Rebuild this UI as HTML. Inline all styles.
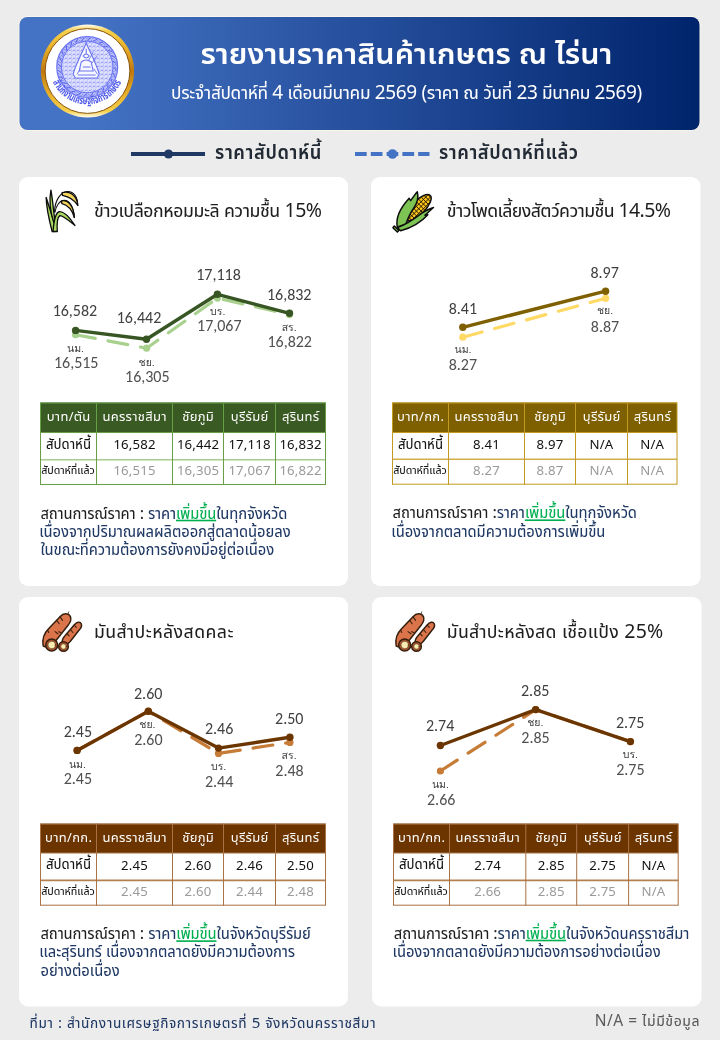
<!DOCTYPE html>
<html lang="th"><head><meta charset="utf-8"><title>รายงานราคาสินค้าเกษตร ณ ไร่นา</title>
<style>
html,body{margin:0;padding:0;background:#ececec;}
body{width:720px;height:1040px;overflow:hidden;}
svg{display:block;will-change:transform;}
</style></head><body>
<svg width="720" height="1040" viewBox="0 0 720 1040">
<rect x="0" y="0" width="720" height="1040" fill="#ececec"/>
<defs>
<linearGradient id="hg" x1="0" y1="0" x2="1" y2="0">
<stop offset="0.1" stop-color="#4472C4"/><stop offset="1" stop-color="#00246C"/></linearGradient>
<linearGradient id="gold" x1="0" y1="0" x2="0" y2="1">
<stop offset="0" stop-color="#fffdf0"/><stop offset="0.07" stop-color="#f6d04a"/><stop offset="0.25" stop-color="#e8b02a"/><stop offset="0.5" stop-color="#c0780e"/><stop offset="0.75" stop-color="#e8b02a"/><stop offset="0.93" stop-color="#f6d04a"/><stop offset="1" stop-color="#fffdf0"/></linearGradient>
<pattern id="hatch1" width="3" height="3" patternUnits="userSpaceOnUse"><rect width="3" height="3" fill="#b9befa"/><path d="M0.3 2.6 Q1.5 0.2 2.7 2.6" fill="none" stroke="#5f6af0" stroke-width="0.7"/></pattern>
<pattern id="hatch2" width="4" height="4" patternUnits="userSpaceOnUse"><rect width="4" height="4" fill="#dde0fd"/><path d="M0.5 3.2 Q2 0.6 3.5 3.2 M3.5 0.8 L3.9 1.6" fill="none" stroke="#6d78f0" stroke-width="0.75"/></pattern>
<clipPath id="cobclip"><ellipse cx="398" cy="272" rx="205" ry="82" transform="rotate(-45 398 272)"/></clipPath>
</defs>
<rect x="18.5" y="16" width="682" height="115" rx="9" fill="#f8f5ec"/>
<rect x="19.5" y="17" width="680" height="113" rx="8" fill="url(#hg)"/>
<circle cx="87.5" cy="71" r="46.6" fill="url(#gold)"/>
<circle cx="87.5" cy="71" r="42.4" fill="#ffffff" stroke="#8a5208" stroke-width="1"/>
<circle cx="87.2" cy="67" r="30" fill="url(#hatch1)"/>
<circle cx="87.2" cy="67" r="25.5" fill="url(#hatch2)"/>
<g fill="none" stroke="#6a74f0">
<circle cx="87.2" cy="67" r="30.4" stroke-width="1.3"/>
<circle cx="87.2" cy="67" r="25.8" stroke-width="1"/>
</g>
<path d="M87.2 40.5 L90.7 37.7 M93.1 41.2 L97.2 39.2 M98.7 43.1 L103.1 42.1 M103.7 46.3 L108.2 46.3 M107.9 50.5 L112.3 51.5 M111.1 55.5 L115.1 57.5 M113.0 61.1 L116.5 63.9 M113.7 67.0 L116.5 70.5 M113.0 72.9 L115.0 77.0 M111.1 78.5 L112.1 82.9 M107.9 83.5 L107.9 88.0 M103.7 87.7 L102.7 92.1 M98.7 90.9 L96.7 94.9 M93.1 92.8 L90.3 96.3 M87.2 93.5 L83.7 96.3 M81.3 92.8 L77.2 94.8 M75.7 90.9 L71.3 91.9 M70.7 87.7 L66.2 87.7 M66.5 83.5 L62.1 82.5 M63.3 78.5 L59.3 76.5 M61.4 72.9 L57.9 70.1 M60.7 67.0 L57.9 63.5 M61.4 61.1 L59.4 57.0 M63.3 55.5 L62.3 51.1 M66.5 50.5 L66.5 46.0 M70.7 46.3 L71.7 41.9 M75.7 43.1 L77.7 39.1 M81.3 41.2 L84.1 37.7" stroke="#5a64ee" stroke-width="1" fill="none"/>
<path d="M86.2 43 C90.2 53 96.2 63 99.2 74 L97.2 78 L75.2 78 L73.2 74 C76.2 63 82.2 53 86.2 43 Z" fill="#f7f8ff" stroke="#6a74f0" stroke-width="1.1"/>
<g fill="none" stroke="#6a74f0" stroke-width="1.1" stroke-linecap="round">
<path d="M86.2 49 L86.2 54 M83.2 56 q3 -4 6 0 q-3 4 -6 0 M81.2 62 q5 -4 10 0 L93.2 71 L79.2 71 Z M78.2 75 L95.2 75 M83.2 67 L90.2 67"/>
<path d="M88.2 61 l5 -9 M91.2 64 l6 -8 M80.2 69 l-3 5 M94.2 69 l3 5" stroke-width="0.9"/>
</g>
<path id="arc" d="M51.400000000000006 77.5 A 37.3 37.3 0 0 0 123.0 77.5" fill="none"/>
<text style="font-family:'Noto Sans','Noto Sans Thai UI','Liberation Sans',sans-serif;font-stretch:87.5%;font-size:11.5px;font-weight:700;fill:#4f5aea;"><textPath href="#arc" startOffset="50%" text-anchor="middle" textLength="86" lengthAdjust="spacingAndGlyphs">สำนักงานเศรษฐกิจการเกษตร</textPath></text>
<text x="406.5" y="64.4" text-anchor="middle" style="font-family:'Noto Sans','Noto Sans Thai UI','Liberation Sans',sans-serif;font-size:30.5px;font-weight:600;fill:#ffffff;">รายงานราคาสินค้าเกษตร ณ ไร่นา</text>
<text x="406.5" y="99.3" text-anchor="middle" style="font-family:'Noto Sans','Noto Sans Thai UI','Liberation Sans',sans-serif;font-stretch:87.5%;font-size:19px;font-weight:400;fill:#ffffff;letter-spacing:-0.35px;">ประจำสัปดาห์ที่ 4 เดือนมีนาคม 2569 (ราคา ณ วันที่ 23 มีนาคม 2569)</text>
<line x1="131" y1="154" x2="205" y2="154" stroke="#1F3864" stroke-width="4"/>
<circle cx="168.5" cy="154" r="4.6" fill="#1F3864"/>
<text x="215" y="158.8" text-anchor="start" style="font-family:'Noto Sans','Noto Sans Thai UI','Liberation Sans',sans-serif;font-stretch:87.5%;font-size:19.8px;font-weight:600;fill:#222a35;letter-spacing:0.6px;">ราคาสัปดาห์นี้</text>
<line x1="355" y1="154" x2="429.5" y2="154" stroke="#4472C4" stroke-width="4" stroke-dasharray="11.7 4.1"/>
<circle cx="392.5" cy="154" r="4.8" fill="#4472C4"/>
<text x="439" y="158.8" text-anchor="start" style="font-family:'Noto Sans','Noto Sans Thai UI','Liberation Sans',sans-serif;font-stretch:87.5%;font-size:19.8px;font-weight:600;fill:#222a35;letter-spacing:0.55px;">ราคาสัปดาห์ที่แล้ว</text>
<rect x="19" y="177" width="329" height="409" rx="9" fill="#ffffff"/>
<rect x="371" y="177" width="329.5" height="409" rx="9" fill="#ffffff"/>
<rect x="19" y="597" width="329" height="409.5" rx="9" fill="#ffffff"/>
<rect x="372" y="597" width="329.5" height="409.5" rx="9" fill="#ffffff"/>
<text x="94" y="216.8" text-anchor="start" style="font-family:'Noto Sans','Noto Sans Thai UI','Liberation Sans',sans-serif;font-stretch:87.5%;font-size:19.5px;font-weight:400;fill:#1e1e1e;letter-spacing:-0.45px;">ข้าวเปลือกหอมมะลิ ความชื้น 15%</text>
<text x="446.8" y="216.8" text-anchor="start" style="font-family:'Noto Sans','Noto Sans Thai UI','Liberation Sans',sans-serif;font-stretch:87.5%;font-size:19.5px;font-weight:400;fill:#1e1e1e;letter-spacing:-0.61px;">ข้าวโพดเลี้ยงสัตว์ความชื้น 14.5%</text>
<text x="93.9" y="637.7" text-anchor="start" style="font-family:'Noto Sans','Noto Sans Thai UI','Liberation Sans',sans-serif;font-stretch:87.5%;font-size:19.5px;font-weight:400;fill:#1e1e1e;letter-spacing:0.42px;">มันสำปะหลังสดคละ</text>
<text x="446.8" y="637.7" text-anchor="start" style="font-family:'Noto Sans','Noto Sans Thai UI','Liberation Sans',sans-serif;font-stretch:87.5%;font-size:19.5px;font-weight:400;fill:#1e1e1e;letter-spacing:0.24px;">มันสำปะหลังสด เชื้อแป้ง 25%</text>
<g transform="translate(42 187) scale(0.0556)" stroke="#0d0d0d" stroke-width="24" stroke-linejoin="round" stroke-linecap="round">
<path d="M225 440 C232 250 330 88 455 80 C570 74 648 185 640 330" fill="none" stroke-width="20"/>
<path d="M362 102 C490 62 628 142 645 332 C598 252 528 182 368 150 Z" fill="#f6d35a"/>
<path d="M232 455 C255 330 320 240 402 240 C495 240 572 362 580 548" fill="none" stroke-width="20"/>
<path d="M350 250 C458 222 565 320 582 548 C545 425 478 325 358 298 Z" fill="#f6d35a"/>
<path d="M182 800 C130 600 80 400 75 188 C130 360 198 560 265 796 Z" fill="#a9d95f"/>
<path d="M212 640 C148 450 125 250 160 58 C195 250 208 450 235 620 Z" fill="#a9d95f"/>
<path d="M198 800 C215 600 238 465 305 445 C388 428 505 560 592 692 C480 602 372 505 320 515 C275 545 265 650 275 800 Z" fill="#a9d95f"/>
</g>
<g transform="translate(385 185) scale(0.08333)" stroke="#0d0d0d" stroke-width="18" stroke-linejoin="round">
<ellipse cx="398" cy="272" rx="205" ry="82" transform="rotate(-45 398 272)" fill="#f7c21c"/>
<g clip-path="url(#cobclip)" stroke="#2a1d00" stroke-width="12">
<line x1="-324" y1="60" x2="126" y2="510"/>
<line x1="-324" y1="510" x2="126" y2="60"/>
<line x1="-268" y1="60" x2="182" y2="510"/>
<line x1="-268" y1="510" x2="182" y2="60"/>
<line x1="-212" y1="60" x2="238" y2="510"/>
<line x1="-212" y1="510" x2="238" y2="60"/>
<line x1="-156" y1="60" x2="294" y2="510"/>
<line x1="-156" y1="510" x2="294" y2="60"/>
<line x1="-100" y1="60" x2="350" y2="510"/>
<line x1="-100" y1="510" x2="350" y2="60"/>
<line x1="-44" y1="60" x2="406" y2="510"/>
<line x1="-44" y1="510" x2="406" y2="60"/>
<line x1="12" y1="60" x2="462" y2="510"/>
<line x1="12" y1="510" x2="462" y2="60"/>
<line x1="68" y1="60" x2="518" y2="510"/>
<line x1="68" y1="510" x2="518" y2="60"/>
<line x1="124" y1="60" x2="574" y2="510"/>
<line x1="124" y1="510" x2="574" y2="60"/>
<line x1="180" y1="60" x2="630" y2="510"/>
<line x1="180" y1="510" x2="630" y2="60"/>
<line x1="236" y1="60" x2="686" y2="510"/>
<line x1="236" y1="510" x2="686" y2="60"/>
<line x1="292" y1="60" x2="742" y2="510"/>
<line x1="292" y1="510" x2="742" y2="60"/>
<line x1="348" y1="60" x2="798" y2="510"/>
<line x1="348" y1="510" x2="798" y2="60"/>
<line x1="404" y1="60" x2="854" y2="510"/>
<line x1="404" y1="510" x2="854" y2="60"/>
<line x1="460" y1="60" x2="910" y2="510"/>
<line x1="460" y1="510" x2="910" y2="60"/>
<line x1="516" y1="60" x2="966" y2="510"/>
<line x1="516" y1="510" x2="966" y2="60"/>
<line x1="572" y1="60" x2="1022" y2="510"/>
<line x1="572" y1="510" x2="1022" y2="60"/>
<line x1="628" y1="60" x2="1078" y2="510"/>
<line x1="628" y1="510" x2="1078" y2="60"/>
<line x1="684" y1="60" x2="1134" y2="510"/>
<line x1="684" y1="510" x2="1134" y2="60"/>
</g>
<path d="M148 505 C125 400 190 270 290 160 L308 188 C335 150 360 115 388 82 C405 150 388 218 342 282 C308 330 275 400 250 470 Z" fill="#7dc455"/>
<path d="M150 512 C240 478 340 415 425 350 C462 320 505 295 582 270 C548 302 508 336 480 362 L514 356 C446 432 336 506 188 550 Z" fill="#7dc455"/>
<path d="M112 492 L168 545 L148 565 L95 512 Z" fill="#7dc455"/>
</g>
<g transform="translate(35 605) scale(0.08333)" stroke="#35200f" stroke-width="18" stroke-linejoin="round" stroke-linecap="round">
<path d="M405 82 L395 115" fill="none" stroke-width="9"/>
<path d="M98 490 C85 415 112 335 168 280 L300 140 C340 95 400 95 425 140 C440 175 420 215 395 245 L240 440 C200 492 125 515 98 490 Z" fill="#db744b"/>
<path d="M325 470 C320 420 340 390 360 370 L470 240 C500 205 540 195 555 225 C565 250 550 280 530 300 L420 440 C390 480 340 500 325 470 Z" fill="#db744b"/>
<path d="M300 140 L330 185 M260 185 L290 225 M240 320 L275 345 M285 320 L310 330 M150 300 L165 330 M470 240 L495 268 M430 300 L455 330 M390 350 L410 370" fill="none" stroke-width="13"/>
<circle cx="200" cy="480" r="72" fill="#a9502b"/>
<circle cx="200" cy="480" r="44" fill="#f8ecb2" stroke-width="6"/>
<circle cx="342" cy="498" r="58" fill="#a9502b"/>
<circle cx="342" cy="498" r="32" fill="#f8ecb2" stroke-width="6"/>
</g>
<g transform="translate(388 605) scale(0.08333)" stroke="#35200f" stroke-width="18" stroke-linejoin="round" stroke-linecap="round">
<path d="M405 82 L395 115" fill="none" stroke-width="9"/>
<path d="M98 490 C85 415 112 335 168 280 L300 140 C340 95 400 95 425 140 C440 175 420 215 395 245 L240 440 C200 492 125 515 98 490 Z" fill="#db744b"/>
<path d="M325 470 C320 420 340 390 360 370 L470 240 C500 205 540 195 555 225 C565 250 550 280 530 300 L420 440 C390 480 340 500 325 470 Z" fill="#db744b"/>
<path d="M300 140 L330 185 M260 185 L290 225 M240 320 L275 345 M285 320 L310 330 M150 300 L165 330 M470 240 L495 268 M430 300 L455 330 M390 350 L410 370" fill="none" stroke-width="13"/>
<circle cx="200" cy="480" r="72" fill="#a9502b"/>
<circle cx="200" cy="480" r="44" fill="#f8ecb2" stroke-width="6"/>
<circle cx="342" cy="498" r="58" fill="#a9502b"/>
<circle cx="342" cy="498" r="32" fill="#f8ecb2" stroke-width="6"/>
</g>
<polyline points="75.6,334.7 146.6,348.2 217.4,298.1 289.5,314.6" fill="none" stroke="#A9D18E" stroke-width="3.2" stroke-dasharray="20 13" stroke-linecap="round" stroke-linejoin="round"/>
<circle cx="75.6" cy="334.7" r="3.6" fill="#A9D18E"/>
<circle cx="146.6" cy="348.2" r="3.6" fill="#A9D18E"/>
<circle cx="217.4" cy="298.1" r="3.6" fill="#A9D18E"/>
<circle cx="289.5" cy="314.6" r="3.6" fill="#A9D18E"/>
<polyline points="75.6,330.4 146.5,339.3 217.4,294.3 289.5,313.3" fill="none" stroke="#375623" stroke-width="3.4" stroke-linejoin="round"/>
<circle cx="75.6" cy="330.4" r="3.7" fill="#375623"/>
<circle cx="146.5" cy="339.3" r="3.7" fill="#375623"/>
<circle cx="217.4" cy="294.3" r="3.7" fill="#375623"/>
<circle cx="289.5" cy="313.3" r="3.7" fill="#375623"/>
<polyline points="462.8,337.2 605.6,298.3" fill="none" stroke="#FFD966" stroke-width="3.2" stroke-dasharray="20 13" stroke-linecap="round" stroke-linejoin="round"/>
<circle cx="462.8" cy="337.2" r="3.6" fill="#FFD966"/>
<circle cx="605.6" cy="298.3" r="3.6" fill="#FFD966"/>
<polyline points="462.8,327.3 605.6,291.2" fill="none" stroke="#7F6000" stroke-width="3.4" stroke-linejoin="round"/>
<circle cx="462.8" cy="327.3" r="3.7" fill="#7F6000"/>
<circle cx="605.6" cy="291.2" r="3.7" fill="#7F6000"/>
<polyline points="77.1,750.4 148.3,711.3 218.5,753.4 289.9,742.4" fill="none" stroke="#C67B36" stroke-width="3.2" stroke-dasharray="20 13" stroke-linecap="round" stroke-linejoin="round"/>
<circle cx="77.1" cy="750.4" r="3.6" fill="#C67B36"/>
<circle cx="148.3" cy="711.3" r="3.6" fill="#C67B36"/>
<circle cx="218.5" cy="753.4" r="3.6" fill="#C67B36"/>
<circle cx="289.9" cy="742.4" r="3.6" fill="#C67B36"/>
<polyline points="77.1,750.4 148.3,711.3 218.5,748.1 289.9,737.3" fill="none" stroke="#6B3500" stroke-width="3.4" stroke-linejoin="round"/>
<circle cx="77.1" cy="750.4" r="3.7" fill="#6B3500"/>
<circle cx="148.3" cy="711.3" r="3.7" fill="#6B3500"/>
<circle cx="218.5" cy="748.1" r="3.7" fill="#6B3500"/>
<circle cx="289.9" cy="737.3" r="3.7" fill="#6B3500"/>
<polyline points="440.4,771.0 535.7,709.6 630.4,741.6" fill="none" stroke="#C67B36" stroke-width="3.2" stroke-dasharray="20 13" stroke-linecap="round" stroke-linejoin="round"/>
<circle cx="440.4" cy="771.0" r="3.6" fill="#C67B36"/>
<circle cx="535.7" cy="709.6" r="3.6" fill="#C67B36"/>
<circle cx="630.4" cy="741.6" r="3.6" fill="#C67B36"/>
<polyline points="440.4,745.5 535.7,709.6 630.4,741.6" fill="none" stroke="#6B3500" stroke-width="3.4" stroke-linejoin="round"/>
<circle cx="440.4" cy="745.5" r="3.7" fill="#6B3500"/>
<circle cx="535.7" cy="709.6" r="3.7" fill="#6B3500"/>
<circle cx="630.4" cy="741.6" r="3.7" fill="#6B3500"/>
<text x="74.9" y="316.3" text-anchor="middle" style="font-family:Carlito,'Liberation Sans',sans-serif;font-size:16px;fill:#404040;">16,582</text>
<text x="139" y="322.5" text-anchor="middle" style="font-family:Carlito,'Liberation Sans',sans-serif;font-size:16px;fill:#404040;">16,442</text>
<text x="218.5" y="280.3" text-anchor="middle" style="font-family:Carlito,'Liberation Sans',sans-serif;font-size:16px;fill:#404040;">17,118</text>
<text x="289.2" y="300.3" text-anchor="middle" style="font-family:Carlito,'Liberation Sans',sans-serif;font-size:16px;fill:#404040;">16,832</text>
<text x="75.5" y="351.5" text-anchor="middle" style="font-family:Loma,'Noto Sans Thai Looped',sans-serif;font-size:10.5px;fill:#404040;">นม.</text>
<text x="76.2" y="367.6" text-anchor="middle" style="font-family:Carlito,'Liberation Sans',sans-serif;font-size:16px;fill:#505050;">16,515</text>
<text x="146.7" y="366.0" text-anchor="middle" style="font-family:Loma,'Noto Sans Thai Looped',sans-serif;font-size:10.5px;fill:#404040;">ชย.</text>
<text x="147.3" y="382.1" text-anchor="middle" style="font-family:Carlito,'Liberation Sans',sans-serif;font-size:16px;fill:#505050;">16,305</text>
<text x="217.7" y="314.9" text-anchor="middle" style="font-family:Loma,'Noto Sans Thai Looped',sans-serif;font-size:10.5px;fill:#404040;">บร.</text>
<text x="219.3" y="331.0" text-anchor="middle" style="font-family:Carlito,'Liberation Sans',sans-serif;font-size:16px;fill:#505050;">17,067</text>
<text x="289.2" y="330.9" text-anchor="middle" style="font-family:Loma,'Noto Sans Thai Looped',sans-serif;font-size:10.5px;fill:#404040;">สร.</text>
<text x="289.7" y="347.0" text-anchor="middle" style="font-family:Carlito,'Liberation Sans',sans-serif;font-size:16px;fill:#505050;">16,822</text>
<text x="462.9" y="313.9" text-anchor="middle" style="font-family:Carlito,'Liberation Sans',sans-serif;font-size:16px;fill:#404040;">8.41</text>
<text x="604.6" y="278.3" text-anchor="middle" style="font-family:Carlito,'Liberation Sans',sans-serif;font-size:16px;fill:#404040;">8.97</text>
<text x="605" y="314.3" text-anchor="middle" style="font-family:Loma,'Noto Sans Thai Looped',sans-serif;font-size:10.5px;fill:#404040;">ชย.</text>
<text x="605" y="332.0" text-anchor="middle" style="font-family:Carlito,'Liberation Sans',sans-serif;font-size:16px;fill:#505050;">8.87</text>
<text x="463" y="353.2" text-anchor="middle" style="font-family:Loma,'Noto Sans Thai Looped',sans-serif;font-size:10.5px;fill:#404040;">นม.</text>
<text x="462.9" y="370.0" text-anchor="middle" style="font-family:Carlito,'Liberation Sans',sans-serif;font-size:16px;fill:#505050;">8.27</text>
<text x="77.9" y="737.0" text-anchor="middle" style="font-family:Carlito,'Liberation Sans',sans-serif;font-size:16px;fill:#404040;">2.45</text>
<text x="148.2" y="698.6" text-anchor="middle" style="font-family:Carlito,'Liberation Sans',sans-serif;font-size:16px;fill:#404040;">2.60</text>
<text x="147.4" y="728.3" text-anchor="middle" style="font-family:Loma,'Noto Sans Thai Looped',sans-serif;font-size:10.5px;fill:#404040;">ชย.</text>
<text x="148.4" y="745.3" text-anchor="middle" style="font-family:Carlito,'Liberation Sans',sans-serif;font-size:16px;fill:#505050;">2.60</text>
<text x="77.4" y="767.8" text-anchor="middle" style="font-family:Loma,'Noto Sans Thai Looped',sans-serif;font-size:10.5px;fill:#404040;">นม.</text>
<text x="77.9" y="784.05" text-anchor="middle" style="font-family:Carlito,'Liberation Sans',sans-serif;font-size:16px;fill:#505050;">2.45</text>
<text x="219.1" y="733.7" text-anchor="middle" style="font-family:Carlito,'Liberation Sans',sans-serif;font-size:16px;fill:#404040;">2.46</text>
<text x="289.3" y="724.0" text-anchor="middle" style="font-family:Carlito,'Liberation Sans',sans-serif;font-size:16px;fill:#404040;">2.50</text>
<text x="218.6" y="770.3" text-anchor="middle" style="font-family:Loma,'Noto Sans Thai Looped',sans-serif;font-size:10.5px;fill:#404040;">บร.</text>
<text x="219.1" y="786.8" text-anchor="middle" style="font-family:Carlito,'Liberation Sans',sans-serif;font-size:16px;fill:#505050;">2.44</text>
<text x="289.1" y="759.2" text-anchor="middle" style="font-family:Loma,'Noto Sans Thai Looped',sans-serif;font-size:10.5px;fill:#404040;">สร.</text>
<text x="289.5" y="776.1" text-anchor="middle" style="font-family:Carlito,'Liberation Sans',sans-serif;font-size:16px;fill:#505050;">2.48</text>
<text x="440.1" y="731.2" text-anchor="middle" style="font-family:Carlito,'Liberation Sans',sans-serif;font-size:16px;fill:#404040;">2.74</text>
<text x="535.2" y="695.9" text-anchor="middle" style="font-family:Carlito,'Liberation Sans',sans-serif;font-size:16px;fill:#404040;">2.85</text>
<text x="535.3" y="726.3" text-anchor="middle" style="font-family:Loma,'Noto Sans Thai Looped',sans-serif;font-size:10.5px;fill:#404040;">ชย.</text>
<text x="535.5" y="742.9" text-anchor="middle" style="font-family:Carlito,'Liberation Sans',sans-serif;font-size:16px;fill:#505050;">2.85</text>
<text x="440.4" y="788.2" text-anchor="middle" style="font-family:Loma,'Noto Sans Thai Looped',sans-serif;font-size:10.5px;fill:#404040;">นม.</text>
<text x="441.2" y="804.7" text-anchor="middle" style="font-family:Carlito,'Liberation Sans',sans-serif;font-size:16px;fill:#505050;">2.66</text>
<text x="630.1" y="727.8" text-anchor="middle" style="font-family:Carlito,'Liberation Sans',sans-serif;font-size:16px;fill:#404040;">2.75</text>
<text x="630.4" y="758.3" text-anchor="middle" style="font-family:Loma,'Noto Sans Thai Looped',sans-serif;font-size:10.5px;fill:#404040;">บร.</text>
<text x="630.4" y="775.3" text-anchor="middle" style="font-family:Carlito,'Liberation Sans',sans-serif;font-size:16px;fill:#505050;">2.75</text>
<rect x="40.5" y="402.5" width="285.0" height="30.0" fill="#3A5A23"/>
<line x1="40.5" y1="459.8" x2="325.5" y2="459.8" stroke="#A8CB90" stroke-width="1.6"/>
<line x1="40.5" y1="403.0" x2="325.5" y2="403.0" stroke="#689E45" stroke-width="1"/>
<line x1="40.5" y1="432.5" x2="325.5" y2="432.5" stroke="#689E45" stroke-width="1"/>
<line x1="40.5" y1="484.5" x2="325.5" y2="484.5" stroke="#689E45" stroke-width="1"/>
<line x1="40.5" y1="402.5" x2="40.5" y2="485.0" stroke="#689E45" stroke-width="1"/>
<line x1="96.5" y1="402.5" x2="96.5" y2="485.0" stroke="#689E45" stroke-width="1"/>
<line x1="172.5" y1="402.5" x2="172.5" y2="485.0" stroke="#689E45" stroke-width="1"/>
<line x1="223.5" y1="402.5" x2="223.5" y2="485.0" stroke="#689E45" stroke-width="1"/>
<line x1="275.5" y1="402.5" x2="275.5" y2="485.0" stroke="#689E45" stroke-width="1"/>
<line x1="325.5" y1="402.5" x2="325.5" y2="485.0" stroke="#689E45" stroke-width="1"/>
<text x="68.65" y="420.8" text-anchor="middle" style="font-family:'Noto Sans','Noto Sans Thai UI','Liberation Sans',sans-serif;font-size:13px;font-weight:400;fill:#ffffff;letter-spacing:0.3px;">บาท/ตัน</text>
<text x="134.65" y="420.8" text-anchor="middle" style="font-family:'Noto Sans','Noto Sans Thai UI','Liberation Sans',sans-serif;font-size:13px;font-weight:400;fill:#ffffff;letter-spacing:0.3px;">นครราชสีมา</text>
<text x="198.15" y="420.8" text-anchor="middle" style="font-family:'Noto Sans','Noto Sans Thai UI','Liberation Sans',sans-serif;font-size:13px;font-weight:400;fill:#ffffff;letter-spacing:0.3px;">ชัยภูมิ</text>
<text x="249.65" y="420.8" text-anchor="middle" style="font-family:'Noto Sans','Noto Sans Thai UI','Liberation Sans',sans-serif;font-size:13px;font-weight:400;fill:#ffffff;letter-spacing:0.3px;">บุรีรัมย์</text>
<text x="300.65" y="420.8" text-anchor="middle" style="font-family:'Noto Sans','Noto Sans Thai UI','Liberation Sans',sans-serif;font-size:13px;font-weight:400;fill:#ffffff;letter-spacing:0.3px;">สุรินทร์</text>
<text x="68.5" y="448.8" text-anchor="middle" style="font-family:'Noto Sans','Noto Sans Thai UI','Liberation Sans',sans-serif;font-stretch:87.5%;font-size:14.5px;font-weight:400;fill:#111111;">สัปดาห์นี้</text>
<text x="68.0" y="474.0" text-anchor="middle" style="font-family:'Noto Sans','Noto Sans Thai UI','Liberation Sans',sans-serif;font-stretch:87.5%;font-size:11.8px;font-weight:400;fill:#111111;letter-spacing:-0.08px;">สัปดาห์ที่แล้ว</text>
<text x="134.5" y="449.40000000000003" text-anchor="middle" style="font-family:'Noto Sans','Noto Sans Thai UI','Liberation Sans',sans-serif;font-size:13.2px;font-weight:400;fill:#111111;letter-spacing:0.15px;">16,582</text>
<text x="134.5" y="475.40000000000003" text-anchor="middle" style="font-family:'Noto Sans','Noto Sans Thai UI','Liberation Sans',sans-serif;font-size:13.2px;font-weight:400;fill:#9a9a9a;letter-spacing:0.15px;">16,515</text>
<text x="198.0" y="449.40000000000003" text-anchor="middle" style="font-family:'Noto Sans','Noto Sans Thai UI','Liberation Sans',sans-serif;font-size:13.2px;font-weight:400;fill:#111111;letter-spacing:0.15px;">16,442</text>
<text x="198.0" y="475.40000000000003" text-anchor="middle" style="font-family:'Noto Sans','Noto Sans Thai UI','Liberation Sans',sans-serif;font-size:13.2px;font-weight:400;fill:#9a9a9a;letter-spacing:0.15px;">16,305</text>
<text x="249.5" y="449.40000000000003" text-anchor="middle" style="font-family:'Noto Sans','Noto Sans Thai UI','Liberation Sans',sans-serif;font-size:13.2px;font-weight:400;fill:#111111;letter-spacing:0.15px;">17,118</text>
<text x="249.5" y="475.40000000000003" text-anchor="middle" style="font-family:'Noto Sans','Noto Sans Thai UI','Liberation Sans',sans-serif;font-size:13.2px;font-weight:400;fill:#9a9a9a;letter-spacing:0.15px;">17,067</text>
<text x="300.5" y="449.40000000000003" text-anchor="middle" style="font-family:'Noto Sans','Noto Sans Thai UI','Liberation Sans',sans-serif;font-size:13.2px;font-weight:400;fill:#111111;letter-spacing:0.15px;">16,832</text>
<text x="300.5" y="475.40000000000003" text-anchor="middle" style="font-family:'Noto Sans','Noto Sans Thai UI','Liberation Sans',sans-serif;font-size:13.2px;font-weight:400;fill:#9a9a9a;letter-spacing:0.15px;">16,822</text>
<rect x="392.5" y="402.5" width="284.5" height="30.0" fill="#7F6000"/>
<line x1="392.5" y1="459.3" x2="677" y2="459.3" stroke="#D2AE48" stroke-width="1.6"/>
<line x1="392.5" y1="403.0" x2="677" y2="403.0" stroke="#C39A20" stroke-width="1"/>
<line x1="392.5" y1="432.5" x2="677" y2="432.5" stroke="#C39A20" stroke-width="1"/>
<line x1="392.5" y1="484.2" x2="677" y2="484.2" stroke="#C39A20" stroke-width="1"/>
<line x1="392.5" y1="402.5" x2="392.5" y2="484.7" stroke="#C39A20" stroke-width="1"/>
<line x1="448.5" y1="402.5" x2="448.5" y2="484.7" stroke="#C39A20" stroke-width="1"/>
<line x1="524.5" y1="402.5" x2="524.5" y2="484.7" stroke="#C39A20" stroke-width="1"/>
<line x1="575.5" y1="402.5" x2="575.5" y2="484.7" stroke="#C39A20" stroke-width="1"/>
<line x1="627.5" y1="402.5" x2="627.5" y2="484.7" stroke="#C39A20" stroke-width="1"/>
<line x1="677" y1="402.5" x2="677" y2="484.7" stroke="#C39A20" stroke-width="1"/>
<text x="420.65" y="420.8" text-anchor="middle" style="font-family:'Noto Sans','Noto Sans Thai UI','Liberation Sans',sans-serif;font-size:13px;font-weight:400;fill:#ffffff;letter-spacing:0.3px;">บาท/กก.</text>
<text x="486.65" y="420.8" text-anchor="middle" style="font-family:'Noto Sans','Noto Sans Thai UI','Liberation Sans',sans-serif;font-size:13px;font-weight:400;fill:#ffffff;letter-spacing:0.3px;">นครราชสีมา</text>
<text x="550.15" y="420.8" text-anchor="middle" style="font-family:'Noto Sans','Noto Sans Thai UI','Liberation Sans',sans-serif;font-size:13px;font-weight:400;fill:#ffffff;letter-spacing:0.3px;">ชัยภูมิ</text>
<text x="601.65" y="420.8" text-anchor="middle" style="font-family:'Noto Sans','Noto Sans Thai UI','Liberation Sans',sans-serif;font-size:13px;font-weight:400;fill:#ffffff;letter-spacing:0.3px;">บุรีรัมย์</text>
<text x="652.4" y="420.8" text-anchor="middle" style="font-family:'Noto Sans','Noto Sans Thai UI','Liberation Sans',sans-serif;font-size:13px;font-weight:400;fill:#ffffff;letter-spacing:0.3px;">สุรินทร์</text>
<text x="420.5" y="448.8" text-anchor="middle" style="font-family:'Noto Sans','Noto Sans Thai UI','Liberation Sans',sans-serif;font-stretch:87.5%;font-size:14.5px;font-weight:400;fill:#111111;">สัปดาห์นี้</text>
<text x="420.0" y="473.5" text-anchor="middle" style="font-family:'Noto Sans','Noto Sans Thai UI','Liberation Sans',sans-serif;font-stretch:87.5%;font-size:11.8px;font-weight:400;fill:#111111;letter-spacing:-0.08px;">สัปดาห์ที่แล้ว</text>
<text x="486.5" y="449.40000000000003" text-anchor="middle" style="font-family:'Noto Sans','Noto Sans Thai UI','Liberation Sans',sans-serif;font-size:13.2px;font-weight:400;fill:#111111;letter-spacing:0.15px;">8.41</text>
<text x="486.5" y="474.90000000000003" text-anchor="middle" style="font-family:'Noto Sans','Noto Sans Thai UI','Liberation Sans',sans-serif;font-size:13.2px;font-weight:400;fill:#9a9a9a;letter-spacing:0.15px;">8.27</text>
<text x="550.0" y="449.40000000000003" text-anchor="middle" style="font-family:'Noto Sans','Noto Sans Thai UI','Liberation Sans',sans-serif;font-size:13.2px;font-weight:400;fill:#111111;letter-spacing:0.15px;">8.97</text>
<text x="550.0" y="474.90000000000003" text-anchor="middle" style="font-family:'Noto Sans','Noto Sans Thai UI','Liberation Sans',sans-serif;font-size:13.2px;font-weight:400;fill:#9a9a9a;letter-spacing:0.15px;">8.87</text>
<text x="601.5" y="449.40000000000003" text-anchor="middle" style="font-family:'Noto Sans','Noto Sans Thai UI','Liberation Sans',sans-serif;font-size:13.2px;font-weight:400;fill:#111111;letter-spacing:0.15px;">N/A</text>
<text x="601.5" y="474.90000000000003" text-anchor="middle" style="font-family:'Noto Sans','Noto Sans Thai UI','Liberation Sans',sans-serif;font-size:13.2px;font-weight:400;fill:#9a9a9a;letter-spacing:0.15px;">N/A</text>
<text x="652.25" y="449.40000000000003" text-anchor="middle" style="font-family:'Noto Sans','Noto Sans Thai UI','Liberation Sans',sans-serif;font-size:13.2px;font-weight:400;fill:#111111;letter-spacing:0.15px;">N/A</text>
<text x="652.25" y="474.90000000000003" text-anchor="middle" style="font-family:'Noto Sans','Noto Sans Thai UI','Liberation Sans',sans-serif;font-size:13.2px;font-weight:400;fill:#9a9a9a;letter-spacing:0.15px;">N/A</text>
<rect x="40.5" y="823.6" width="285.0" height="29.399999999999977" fill="#6C3500"/>
<line x1="40.5" y1="880.4" x2="325.5" y2="880.4" stroke="#B58050" stroke-width="1.6"/>
<line x1="40.5" y1="824.1" x2="325.5" y2="824.1" stroke="#A87245" stroke-width="1"/>
<line x1="40.5" y1="853" x2="325.5" y2="853" stroke="#A87245" stroke-width="1"/>
<line x1="40.5" y1="905.2" x2="325.5" y2="905.2" stroke="#A87245" stroke-width="1"/>
<line x1="40.5" y1="823.6" x2="40.5" y2="905.7" stroke="#A87245" stroke-width="1"/>
<line x1="96.5" y1="823.6" x2="96.5" y2="905.7" stroke="#A87245" stroke-width="1"/>
<line x1="172.5" y1="823.6" x2="172.5" y2="905.7" stroke="#A87245" stroke-width="1"/>
<line x1="223.5" y1="823.6" x2="223.5" y2="905.7" stroke="#A87245" stroke-width="1"/>
<line x1="275.5" y1="823.6" x2="275.5" y2="905.7" stroke="#A87245" stroke-width="1"/>
<line x1="325.5" y1="823.6" x2="325.5" y2="905.7" stroke="#A87245" stroke-width="1"/>
<text x="68.65" y="841.9" text-anchor="middle" style="font-family:'Noto Sans','Noto Sans Thai UI','Liberation Sans',sans-serif;font-size:13px;font-weight:400;fill:#ffffff;letter-spacing:0.3px;">บาท/กก.</text>
<text x="134.65" y="841.9" text-anchor="middle" style="font-family:'Noto Sans','Noto Sans Thai UI','Liberation Sans',sans-serif;font-size:13px;font-weight:400;fill:#ffffff;letter-spacing:0.3px;">นครราชสีมา</text>
<text x="198.15" y="841.9" text-anchor="middle" style="font-family:'Noto Sans','Noto Sans Thai UI','Liberation Sans',sans-serif;font-size:13px;font-weight:400;fill:#ffffff;letter-spacing:0.3px;">ชัยภูมิ</text>
<text x="249.65" y="841.9" text-anchor="middle" style="font-family:'Noto Sans','Noto Sans Thai UI','Liberation Sans',sans-serif;font-size:13px;font-weight:400;fill:#ffffff;letter-spacing:0.3px;">บุรีรัมย์</text>
<text x="300.65" y="841.9" text-anchor="middle" style="font-family:'Noto Sans','Noto Sans Thai UI','Liberation Sans',sans-serif;font-size:13px;font-weight:400;fill:#ffffff;letter-spacing:0.3px;">สุรินทร์</text>
<text x="68.5" y="869.3" text-anchor="middle" style="font-family:'Noto Sans','Noto Sans Thai UI','Liberation Sans',sans-serif;font-stretch:87.5%;font-size:14.5px;font-weight:400;fill:#111111;">สัปดาห์นี้</text>
<text x="68.0" y="894.5999999999999" text-anchor="middle" style="font-family:'Noto Sans','Noto Sans Thai UI','Liberation Sans',sans-serif;font-stretch:87.5%;font-size:11.8px;font-weight:400;fill:#111111;letter-spacing:-0.08px;">สัปดาห์ที่แล้ว</text>
<text x="134.5" y="869.9" text-anchor="middle" style="font-family:'Noto Sans','Noto Sans Thai UI','Liberation Sans',sans-serif;font-size:13.2px;font-weight:400;fill:#111111;letter-spacing:0.15px;">2.45</text>
<text x="134.5" y="895.9999999999999" text-anchor="middle" style="font-family:'Noto Sans','Noto Sans Thai UI','Liberation Sans',sans-serif;font-size:13.2px;font-weight:400;fill:#9a9a9a;letter-spacing:0.15px;">2.45</text>
<text x="198.0" y="869.9" text-anchor="middle" style="font-family:'Noto Sans','Noto Sans Thai UI','Liberation Sans',sans-serif;font-size:13.2px;font-weight:400;fill:#111111;letter-spacing:0.15px;">2.60</text>
<text x="198.0" y="895.9999999999999" text-anchor="middle" style="font-family:'Noto Sans','Noto Sans Thai UI','Liberation Sans',sans-serif;font-size:13.2px;font-weight:400;fill:#9a9a9a;letter-spacing:0.15px;">2.60</text>
<text x="249.5" y="869.9" text-anchor="middle" style="font-family:'Noto Sans','Noto Sans Thai UI','Liberation Sans',sans-serif;font-size:13.2px;font-weight:400;fill:#111111;letter-spacing:0.15px;">2.46</text>
<text x="249.5" y="895.9999999999999" text-anchor="middle" style="font-family:'Noto Sans','Noto Sans Thai UI','Liberation Sans',sans-serif;font-size:13.2px;font-weight:400;fill:#9a9a9a;letter-spacing:0.15px;">2.44</text>
<text x="300.5" y="869.9" text-anchor="middle" style="font-family:'Noto Sans','Noto Sans Thai UI','Liberation Sans',sans-serif;font-size:13.2px;font-weight:400;fill:#111111;letter-spacing:0.15px;">2.50</text>
<text x="300.5" y="895.9999999999999" text-anchor="middle" style="font-family:'Noto Sans','Noto Sans Thai UI','Liberation Sans',sans-serif;font-size:13.2px;font-weight:400;fill:#9a9a9a;letter-spacing:0.15px;">2.48</text>
<rect x="393.5" y="823.6" width="284.70000000000005" height="29.399999999999977" fill="#6C3500"/>
<line x1="393.5" y1="880.4" x2="678.2" y2="880.4" stroke="#B58050" stroke-width="1.6"/>
<line x1="393.5" y1="824.1" x2="678.2" y2="824.1" stroke="#A87245" stroke-width="1"/>
<line x1="393.5" y1="853" x2="678.2" y2="853" stroke="#A87245" stroke-width="1"/>
<line x1="393.5" y1="905.2" x2="678.2" y2="905.2" stroke="#A87245" stroke-width="1"/>
<line x1="393.5" y1="823.6" x2="393.5" y2="905.7" stroke="#A87245" stroke-width="1"/>
<line x1="449.5" y1="823.6" x2="449.5" y2="905.7" stroke="#A87245" stroke-width="1"/>
<line x1="525.8" y1="823.6" x2="525.8" y2="905.7" stroke="#A87245" stroke-width="1"/>
<line x1="576.7" y1="823.6" x2="576.7" y2="905.7" stroke="#A87245" stroke-width="1"/>
<line x1="628.6" y1="823.6" x2="628.6" y2="905.7" stroke="#A87245" stroke-width="1"/>
<line x1="678.2" y1="823.6" x2="678.2" y2="905.7" stroke="#A87245" stroke-width="1"/>
<text x="421.65" y="841.9" text-anchor="middle" style="font-family:'Noto Sans','Noto Sans Thai UI','Liberation Sans',sans-serif;font-size:13px;font-weight:400;fill:#ffffff;letter-spacing:0.3px;">บาท/กก.</text>
<text x="487.79999999999995" y="841.9" text-anchor="middle" style="font-family:'Noto Sans','Noto Sans Thai UI','Liberation Sans',sans-serif;font-size:13px;font-weight:400;fill:#ffffff;letter-spacing:0.3px;">นครราชสีมา</text>
<text x="551.4" y="841.9" text-anchor="middle" style="font-family:'Noto Sans','Noto Sans Thai UI','Liberation Sans',sans-serif;font-size:13px;font-weight:400;fill:#ffffff;letter-spacing:0.3px;">ชัยภูมิ</text>
<text x="602.8000000000001" y="841.9" text-anchor="middle" style="font-family:'Noto Sans','Noto Sans Thai UI','Liberation Sans',sans-serif;font-size:13px;font-weight:400;fill:#ffffff;letter-spacing:0.3px;">บุรีรัมย์</text>
<text x="653.5500000000001" y="841.9" text-anchor="middle" style="font-family:'Noto Sans','Noto Sans Thai UI','Liberation Sans',sans-serif;font-size:13px;font-weight:400;fill:#ffffff;letter-spacing:0.3px;">สุรินทร์</text>
<text x="421.5" y="869.3" text-anchor="middle" style="font-family:'Noto Sans','Noto Sans Thai UI','Liberation Sans',sans-serif;font-stretch:87.5%;font-size:14.5px;font-weight:400;fill:#111111;">สัปดาห์นี้</text>
<text x="421.0" y="894.5999999999999" text-anchor="middle" style="font-family:'Noto Sans','Noto Sans Thai UI','Liberation Sans',sans-serif;font-stretch:87.5%;font-size:11.8px;font-weight:400;fill:#111111;letter-spacing:-0.08px;">สัปดาห์ที่แล้ว</text>
<text x="487.65" y="869.9" text-anchor="middle" style="font-family:'Noto Sans','Noto Sans Thai UI','Liberation Sans',sans-serif;font-size:13.2px;font-weight:400;fill:#111111;letter-spacing:0.15px;">2.74</text>
<text x="487.65" y="895.9999999999999" text-anchor="middle" style="font-family:'Noto Sans','Noto Sans Thai UI','Liberation Sans',sans-serif;font-size:13.2px;font-weight:400;fill:#9a9a9a;letter-spacing:0.15px;">2.66</text>
<text x="551.25" y="869.9" text-anchor="middle" style="font-family:'Noto Sans','Noto Sans Thai UI','Liberation Sans',sans-serif;font-size:13.2px;font-weight:400;fill:#111111;letter-spacing:0.15px;">2.85</text>
<text x="551.25" y="895.9999999999999" text-anchor="middle" style="font-family:'Noto Sans','Noto Sans Thai UI','Liberation Sans',sans-serif;font-size:13.2px;font-weight:400;fill:#9a9a9a;letter-spacing:0.15px;">2.85</text>
<text x="602.6500000000001" y="869.9" text-anchor="middle" style="font-family:'Noto Sans','Noto Sans Thai UI','Liberation Sans',sans-serif;font-size:13.2px;font-weight:400;fill:#111111;letter-spacing:0.15px;">2.75</text>
<text x="602.6500000000001" y="895.9999999999999" text-anchor="middle" style="font-family:'Noto Sans','Noto Sans Thai UI','Liberation Sans',sans-serif;font-size:13.2px;font-weight:400;fill:#9a9a9a;letter-spacing:0.15px;">2.75</text>
<text x="653.4000000000001" y="869.9" text-anchor="middle" style="font-family:'Noto Sans','Noto Sans Thai UI','Liberation Sans',sans-serif;font-size:13.2px;font-weight:400;fill:#111111;letter-spacing:0.15px;">N/A</text>
<text x="653.4000000000001" y="895.9999999999999" text-anchor="middle" style="font-family:'Noto Sans','Noto Sans Thai UI','Liberation Sans',sans-serif;font-size:13.2px;font-weight:400;fill:#9a9a9a;letter-spacing:0.15px;">N/A</text>
<text x="40.4" y="518.7" style="font-family:'Noto Sans','Noto Sans Thai UI','Liberation Sans',sans-serif;font-stretch:87.5%;font-size:16.3px;fill:#1F3864;letter-spacing:-0.15px;"><tspan style="fill:#1e1e1e">สถานการณ์ราคา : </tspan>ราคา<tspan style="fill:#00B050;text-decoration:underline">เพิ่มขึ้น</tspan>ในทุกจังหวัด</text>
<text x="39.199999999999996" y="536.8" style="font-family:'Noto Sans','Noto Sans Thai UI','Liberation Sans',sans-serif;font-stretch:87.5%;font-size:16.3px;fill:#1F3864;letter-spacing:-0.08px;">เนื่องจากปริมาณผลผลิตออกสู่ตลาดน้อยลง</text>
<text x="40.4" y="554.9" style="font-family:'Noto Sans','Noto Sans Thai UI','Liberation Sans',sans-serif;font-stretch:87.5%;font-size:16.3px;fill:#1F3864;letter-spacing:-0.12px;">ในขณะที่ความต้องการยังคงมีอยู่ต่อเนื่อง</text>
<text x="392.5" y="518.4" style="font-family:'Noto Sans','Noto Sans Thai UI','Liberation Sans',sans-serif;font-stretch:87.5%;font-size:16.3px;fill:#1F3864;letter-spacing:-0.1px;"><tspan style="fill:#1e1e1e">สถานการณ์ราคา :</tspan>ราคา<tspan style="fill:#00B050;text-decoration:underline">เพิ่มขึ้น</tspan>ในทุกจังหวัด</text>
<text x="391.3" y="536.5" style="font-family:'Noto Sans','Noto Sans Thai UI','Liberation Sans',sans-serif;font-stretch:87.5%;font-size:16.3px;fill:#1F3864;letter-spacing:-0.07px;">เนื่องจากตลาดมีความต้องการเพิ่มขึ้น</text>
<text x="40.5" y="939.3" style="font-family:'Noto Sans','Noto Sans Thai UI','Liberation Sans',sans-serif;font-stretch:87.5%;font-size:16.3px;fill:#1F3864;letter-spacing:-0.14px;"><tspan style="fill:#1e1e1e">สถานการณ์ราคา : </tspan>ราคา<tspan style="fill:#00B050;text-decoration:underline">เพิ่มขึ้น</tspan>ในจังหวัดบุรีรัมย์</text>
<text x="39.3" y="957.4" style="font-family:'Noto Sans','Noto Sans Thai UI','Liberation Sans',sans-serif;font-stretch:87.5%;font-size:16.3px;fill:#1F3864;letter-spacing:-0.11px;">และสุรินทร์ เนื่องจากตลาดยังมีความต้องการ</text>
<text x="40.5" y="975.5" style="font-family:'Noto Sans','Noto Sans Thai UI','Liberation Sans',sans-serif;font-stretch:87.5%;font-size:16.3px;fill:#1F3864;">อย่างต่อเนื่อง</text>
<text x="393.8" y="938.7" style="font-family:'Noto Sans','Noto Sans Thai UI','Liberation Sans',sans-serif;font-stretch:87.5%;font-size:16.3px;fill:#1F3864;letter-spacing:-0.13px;"><tspan style="fill:#1e1e1e">สถานการณ์ราคา :</tspan>ราคา<tspan style="fill:#00B050;text-decoration:underline">เพิ่มขึ้น</tspan>ในจังหวัดนครราชสีมา</text>
<text x="392.6" y="956.8" style="font-family:'Noto Sans','Noto Sans Thai UI','Liberation Sans',sans-serif;font-stretch:87.5%;font-size:16.3px;fill:#1F3864;letter-spacing:-0.09px;">เนื่องจากตลาดยังมีความต้องการอย่างต่อเนื่อง</text>
<text x="29.5" y="1027.9" text-anchor="start" style="font-family:'Noto Sans','Noto Sans Thai UI','Liberation Sans',sans-serif;font-stretch:87.5%;font-size:15px;font-weight:400;fill:#1F3864;letter-spacing:0.56px;">ที่มา : สำนักงานเศรษฐกิจการเกษตรที่ 5 จังหวัดนครราชสีมา</text>
<text x="700" y="1025.8" text-anchor="end" style="font-family:'Noto Sans','Noto Sans Thai UI','Liberation Sans',sans-serif;font-stretch:87.5%;font-size:15.5px;font-weight:400;fill:#595959;letter-spacing:0.5px;">N/A = ไม่มีข้อมูล</text>
</svg>
</body></html>
